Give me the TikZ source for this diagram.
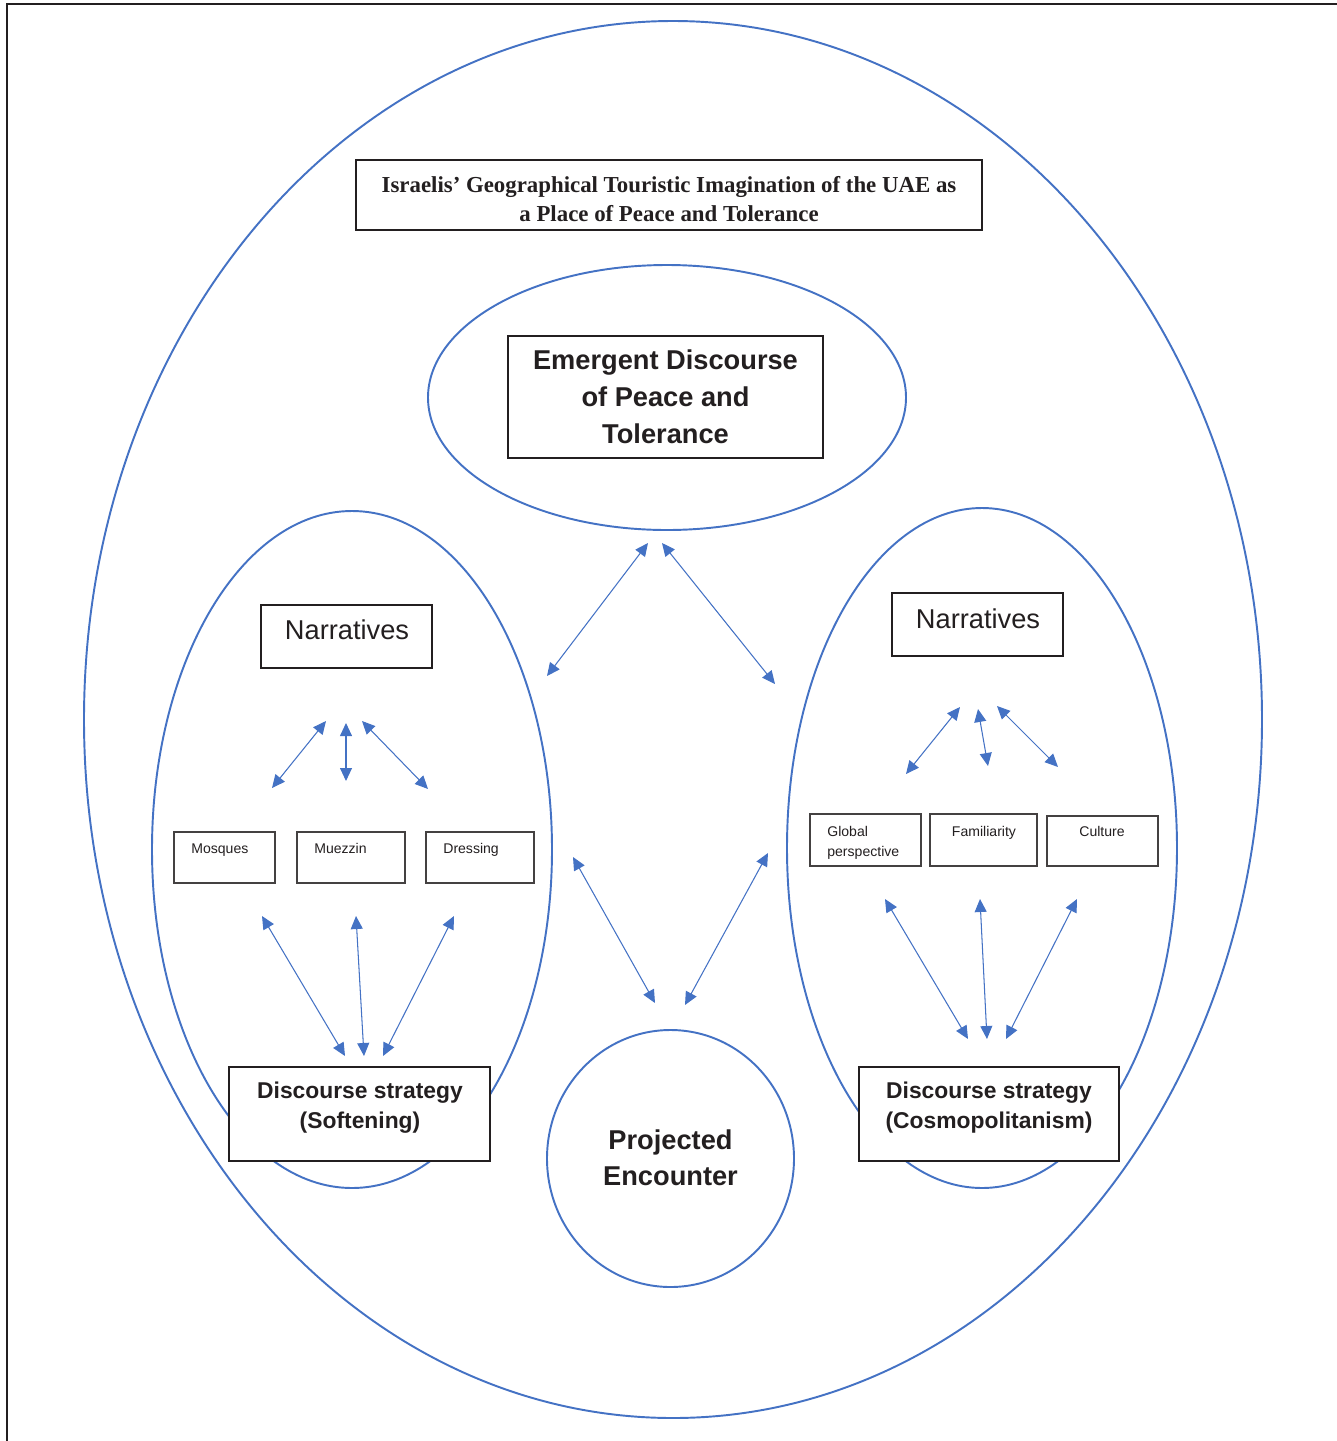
\documentclass[tikz,border=0pt]{standalone}
\usepackage{fontspec}
\setmainfont{Liberation Sans}
\newfontfamily\titlefont{Liberation Serif}
\usetikzlibrary{arrows.meta}
\definecolor{ringblue}{RGB}{68,114,196}
\definecolor{inkgray}{RGB}{35,31,32}

\tikzset{
	ring/.style={draw=ringblue, line width=1.1pt},
	link/.style={draw=ringblue, line width=0.6pt,
		{Triangle[length=7.4pt,width=6.8pt]}-{Triangle[length=7.4pt,width=6.8pt]}},
	labelbox/.style={draw=inkgray, line width=0.7pt, fill=white, inner sep=0pt},
	smallbox/.style={draw=inkgray!85, line width=0.7pt, inner sep=0pt},
	smalltext/.style={text=inkgray, inner sep=0pt, font=\fontsize{8}{11.3}\selectfont}
}

\begin{document}
\begin{tikzpicture}[x=0.02cm, y=-0.02cm]

		\useasboundingbox (0,0) rectangle (1337,1441);
		% page frame
		\draw[line width=1.1pt, inkgray] (7,1441) -- (7,4) -- (1337,4);

		% rings
		\draw[ring] (673,719.5) ellipse [x radius=589, y radius=698.5]; %outer
		\draw[ring] (667,397.5) ellipse [x radius=239, y radius=132.5]; %discourse
		\draw[ring] (352,849.5) ellipse [x radius=200, y radius=338.5]; %softening
		\draw[ring] (982,848) ellipse [x radius=195, y radius=340]; %cosmopolitanism
		\draw[ring] (670.5,1158.5) ellipse [x radius=123.5, y radius=128.5]; %encounter

		% title
		\node[labelbox, minimum width=12.52cm, minimum height=1.4cm] (title) at (669,195) {};
		\node[align=center, font=\titlefont\bfseries\fontsize{13}{17}\selectfont, text=inkgray]
			(titlet) at (669,199)
			{Israelis’ Geographical Touristic Imagination of the UAE as\\a Place of Peace and Tolerance};

		% central labels
		\node[labelbox, minimum width=6.3cm, minimum height=2.44cm, align=center,
			font=\bfseries\fontsize{15.5}{21}\selectfont, text=inkgray] (peace) at (665.5,397)
			{Emergent Discourse\\of Peace and\\Tolerance};
		\node[align=center, font=\bfseries\fontsize{15.5}{20.4}\selectfont, text=inkgray] (enc)
			at (670.5,1158) {Projected\\Encounter};

		% left side
		\node[labelbox, minimum width=3.42cm, minimum height=1.26cm] (narl) at (346.5,636.5) {};
		\node[text=inkgray, font=\fontsize{15.5}{19}\selectfont] (narlt) at (347,630) {Narratives};
		\node[smallbox, minimum width=2.02cm, minimum height=1.02cm] (mosq) at (224.5,857.5) {};
		\node[smallbox, minimum width=2.16cm, minimum height=1.02cm] (muez) at (351,857.5) {};
		\node[smallbox, minimum width=2.16cm, minimum height=1.02cm] (dress) at (480,857.5) {};
		\node[smalltext, anchor=base west] (mosqt) at (191,853) {Mosques};
		\node[smalltext, anchor=base west] (muezt) at (314,853) {Muezzin};
		\node[smalltext, anchor=base west] (dresst) at (443,853) {Dressing};
		\node[labelbox, minimum width=5.22cm, minimum height=1.88cm] (soft) at (359.5,1114) {};
		\node[align=center, text=inkgray, font=\bfseries\fontsize{13}{17}\selectfont] (softt)
			at (360,1108) {Discourse strategy\\(Softening)};

		% right side
		\node[labelbox, minimum width=3.42cm, minimum height=1.26cm] (narr) at (977.5,624.5) {};
		\node[text=inkgray, font=\fontsize{15.5}{19}\selectfont] (narrt) at (978,619) {Narratives};
		\node[smallbox, minimum width=2.22cm, minimum height=1.04cm] (glob) at (865.5,840) {};
		\node[smallbox, minimum width=2.14cm, minimum height=1.04cm] (fam) at (983.5,840) {};
		\node[smallbox, minimum width=2.22cm, minimum height=1.0cm] (cult) at (1102.5,841) {};
		\node[smalltext, anchor=west, align=left] (globt) at (827,843) {Global\\perspective};
		\node[smalltext, anchor=base] (famt) at (984,836) {Familiarity};
		\node[smalltext, anchor=base] (cultt) at (1102,836) {Culture};
		\node[labelbox, minimum width=5.2cm, minimum height=1.88cm] (cosmo) at (989,1114) {};
		\node[align=center, text=inkgray, font=\bfseries\fontsize{13}{17}\selectfont] (cosmot)
			at (989,1108) {Discourse strategy\\(Cosmopolitanism)};

		%% Arrows %%
		% top ring to the sides
		\coordinate (tl-a) at (547,676);  \coordinate (tl-b) at (648,543);
		\coordinate (tr-a) at (662,543);  \coordinate (tr-b) at (775,684);
		\draw[link] (tl-a) -- (tl-b);
		\draw[link] (tr-a) -- (tr-b);
		% sides to the encounter
		\coordinate (bl-a) at (573,857);  \coordinate (bl-b) at (655,1003);
		\coordinate (br-a) at (768,853);  \coordinate (br-b) at (685,1005);
		\draw[link] (bl-a) -- (bl-b);
		\draw[link] (br-a) -- (br-b);
		% left narratives
		\coordinate (ln1-a) at (326,721); \coordinate (ln1-b) at (272,788);
		\coordinate (ln2-a) at (346,723); \coordinate (ln2-b) at (346,781);
		\coordinate (ln3-a) at (362,721); \coordinate (ln3-b) at (428,789);
		\draw[link] (ln1-a) -- (ln1-b);
		\draw[link] (ln2-a) -- (ln2-b);
		\draw[link] (ln3-a) -- (ln3-b);
		% left strategy
		\coordinate (ls1-a) at (262,916); \coordinate (ls1-b) at (345,1056);
		\coordinate (ls2-a) at (356,916); \coordinate (ls2-b) at (364,1056);
		\coordinate (ls3-a) at (454,916); \coordinate (ls3-b) at (383,1056);
		\draw[link] (ls1-a) -- (ls1-b);
		\draw[link] (ls2-a) -- (ls2-b);
		\draw[link] (ls3-a) -- (ls3-b);
		% right narratives
		\coordinate (rn1-a) at (960,707);  \coordinate (rn1-b) at (906,774);
		\coordinate (rn2-a) at (978,709);  \coordinate (rn2-b) at (988,766);
		\coordinate (rn3-a) at (997,706);  \coordinate (rn3-b) at (1058,767);
		\draw[link] (rn1-a) -- (rn1-b);
		\draw[link] (rn2-a) -- (rn2-b);
		\draw[link] (rn3-a) -- (rn3-b);
		% right strategy
		\coordinate (rs1-a) at (885,899);  \coordinate (rs1-b) at (968,1039);
		\coordinate (rs2-a) at (980,899);  \coordinate (rs2-b) at (987,1039);
		\coordinate (rs3-a) at (1077,899); \coordinate (rs3-b) at (1006,1039);
		\draw[link] (rs1-a) -- (rs1-b);
		\draw[link] (rs2-a) -- (rs2-b);
		\draw[link] (rs3-a) -- (rs3-b);

\end{tikzpicture}
\end{document}
